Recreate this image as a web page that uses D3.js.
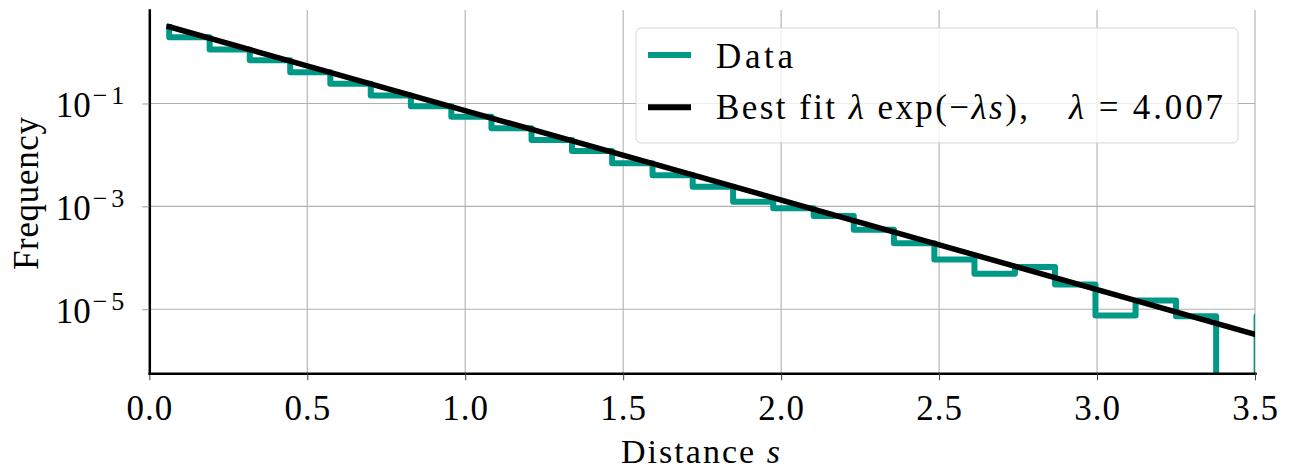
<!DOCTYPE html>
<html>
<head>
<meta charset="utf-8">
<script src="https://cdn.jsdelivr.net/npm/d3@7/dist/d3.min.js"></script>
<style>
body { margin: 0; background: #fff; }
text { font-family: "Liberation Serif", "Times New Roman", serif; fill: #000; }
</style>
</head>
<body>
<div class="canvas"></div>
<script>
// histogram step points: bin edges (s) and frequency level reached at each edge
const binEdges = [0.063, 0.191, 0.318, 0.446, 0.573, 0.701, 0.828, 0.956, 1.083, 1.210,
  1.338, 1.465, 1.593, 1.720, 1.848, 1.975, 2.103, 2.230, 2.357, 2.485,
  2.612, 2.740, 2.867, 2.995, 3.122, 3.250, 3.377, 3.505, 3.632]
const freq = [3.07, 1.94, 1.12, 0.69, 0.405, 0.243, 0.143, 0.0880, 0.0554, 0.0330,
  0.0195, 0.0119, 0.00689, 0.00402, 0.00241, 0.00123, 0.000918, 0.000650, 0.000352, 0.000192,
  0.0000929, 0.0000492, 0.0000664, 0.0000303, 0.00000758, 0.0000148, 0.00000735, 0, 0.0000074]

// best fit line end points
const fitS = [0.063, 3.505]
const fitFreq = [3.1, 0.0000032]
const lambdaText = "4.007"

const xTicks = [0, 0.5, 1.0, 1.5, 2.0, 2.5, 3.0, 3.5]
const yTicks = [1e-1, 1e-3, 1e-5]
const yTickExp = ["−1", "−3", "−5"]

const W = 1294, H = 471
const pLeft = 149.3, pRight = 1255, pTop = 10, pBottom = 373.3
const teal = "#009988"

const svg = d3.select(".canvas").append("svg")
    .attr("width", W)
    .attr("height", H)

const x = d3.scaleLinear().domain([0, 3.5]).range([pLeft, pRight])
const y = d3.scaleLog().domain([Math.pow(10, -6.244), Math.pow(10, 0.817)]).range([pBottom, pTop])

svg.append("clipPath").attr("id", "plotclip")
  .append("rect")
    .attr("x", pLeft).attr("y", pTop)
    .attr("width", pRight - pLeft).attr("height", pBottom - pTop)

// grid
const grid = svg.append("g")
grid.selectAll("line.gx").data(xTicks.slice(1)).enter().append("line")
    .attr("x1", d => x(d)).attr("x2", d => x(d))
    .attr("y1", pTop).attr("y2", pBottom)
    .attr("stroke", "#b0b0b0").attr("stroke-width", 1.1)
grid.selectAll("line.gy").data(yTicks).enter().append("line")
    .attr("x1", pLeft).attr("x2", pRight)
    .attr("y1", d => y(d)).attr("y2", d => y(d))
    .attr("stroke", "#b0b0b0").attr("stroke-width", 1.1)

const plot = svg.append("g").attr("clip-path", "url(#plotclip)")

// data histogram (step)
const step = d3.line()
    .x((d, i) => x(binEdges[i]))
    .y(d => d > 0 ? y(d) : pBottom + 30)
    .curve(d3.curveStepBefore)

plot.append("path")
    .attr("d", step(freq))
    .attr("fill", "none")
    .attr("stroke", teal)
    .attr("stroke-width", 6)
    .attr("stroke-linejoin", "round")
    .attr("stroke-linecap", "square")

// best fit line
const fitLine = d3.line()
    .x((d, i) => x(fitS[i]))
    .y(d => y(d))

plot.append("path")
    .attr("d", fitLine(fitFreq))
    .attr("fill", "none")
    .attr("stroke", "#000")
    .attr("stroke-width", 5.5)
    .attr("stroke-linecap", "square")

// x axis
const xAxis = svg.append("g")
    .attr("transform", `translate(0,${pBottom})`)
    .call(d3.axisBottom(x).tickValues(xTicks).tickFormat(d3.format(".1f")).tickSize(7).tickSizeOuter(0))
xAxis.select(".domain").attr("stroke", "#000").attr("stroke-width", 2.5).attr("stroke-linecap", "square")
xAxis.selectAll(".tick line").attr("stroke", "#444").attr("stroke-width", 1)
xAxis.selectAll(".tick text")
    .attr("y", 46.7).attr("dy", 0)
    .style("font-size", "35px")
    .style("letter-spacing", "1px")
    .style("font-family", "Liberation Serif")

// y axis
const yAxis = svg.append("g")
    .attr("transform", `translate(${pLeft},0)`)
    .call(d3.axisLeft(y).tickValues(yTicks).tickSize(7).tickSizeOuter(0))
yAxis.select(".domain").attr("stroke", "#000").attr("stroke-width", 2.5).attr("stroke-linecap", "square")
yAxis.selectAll(".tick line").attr("stroke", "#999").attr("stroke-width", 1)
yAxis.selectAll(".tick text").each(function(d, i) {
  const t = d3.select(this)
  t.text(null)
    .attr("x", -21).attr("dy", 0).attr("y", 13.4)
    .attr("text-anchor", "end")
    .style("font-family", "Liberation Serif")
  t.append("tspan").style("font-size", "35px").text("10")
  t.append("tspan").style("font-size", "26px").style("letter-spacing", "4px")
      .attr("dx", 2).attr("dy", -13.4).text(yTickExp[i])
})

// axis labels
const xl = svg.append("text")
    .attr("x", 621)
    .attr("y", 463)
    .attr("textLength", 159)
    .attr("lengthAdjust", "spacing")
    .style("font-size", "34px")
xl.append("tspan").text("Distance ")
xl.append("tspan").style("font-style", "italic").text("s")

svg.append("text")
    .attr("transform", `translate(38,270) rotate(-90)`)
    .attr("textLength", 153)
    .attr("lengthAdjust", "spacing")
    .style("font-size", "35px")
    .text("Frequency")

// legend
const lg = svg.append("g")
lg.append("rect")
    .attr("x", 636).attr("y", 28)
    .attr("width", 602).attr("height", 115)
    .attr("rx", 5)
    .attr("fill", "#fff").attr("fill-opacity", 0.8)
    .attr("stroke", "#cccccc").attr("stroke-opacity", 0.8)

lg.append("line")
    .attr("x1", 648).attr("x2", 691).attr("y1", 55).attr("y2", 55)
    .attr("stroke", teal).attr("stroke-width", 6)
lg.append("text")
    .attr("x", 716).attr("y", 68)
    .attr("textLength", 77)
    .attr("lengthAdjust", "spacing")
    .style("font-size", "35px")
    .text("Data")

lg.append("line")
    .attr("x1", 648).attr("x2", 691).attr("y1", 107.3).attr("y2", 107.3)
    .attr("stroke", "#000").attr("stroke-width", 6)
const t1 = lg.append("text")
    .attr("x", 716).attr("y", 119)
    .attr("textLength", 312)
    .attr("lengthAdjust", "spacing")
    .style("font-size", "35px")
t1.append("tspan").text("Best fit ")
t1.append("tspan").style("font-style", "italic").text("λ")
t1.append("tspan").text(" exp(−")
t1.append("tspan").style("font-style", "italic").text("λs")
t1.append("tspan").text("),")
const t2 = lg.append("text")
    .attr("x", 1069).attr("y", 119)
    .attr("textLength", 154)
    .attr("lengthAdjust", "spacing")
    .style("font-size", "35px")
t2.append("tspan").style("font-style", "italic").text("λ")
t2.append("tspan").text(" = " + lambdaText)
</script>
</body>
</html>
